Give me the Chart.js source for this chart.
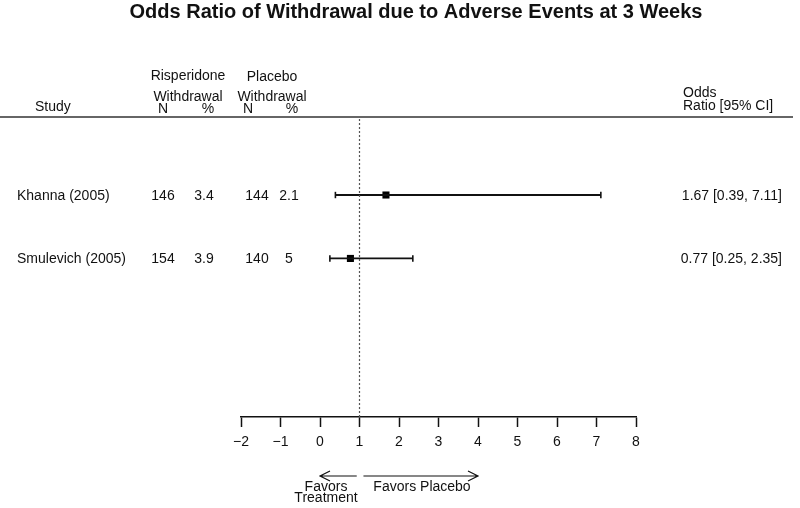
<!DOCTYPE html>
<html>
<head>
<meta charset="utf-8">
<script src="https://cdn.jsdelivr.net/npm/chart.js@4.4.1/dist/chart.umd.min.js"></script>
<style>
  html, body { margin: 0; padding: 0; background: #fff; }
  #wrap { width: 800px; height: 508px; position: relative; }
</style>
</head>
<body>
<div id="wrap"><canvas id="forest"></canvas></div>
<script>
"use strict";
// data
var studies = ["Khanna (2005)", "Smulevich (2005)"];
var rows = [2, 1];
var risN = ["146", "154"];
var risPct = ["3.4", "3.9"];
var plaN = ["144", "140"];
var plaPct = ["2.1", "5"];
var oddsRatio = [1.67, 0.77];
var ciLower = [0.39, 0.25];
var ciUpper = [7.11, 2.35];
var xTicks = [-2, -1, 0, 1, 2, 3, 4, 5, 6, 7, 8];

var FONT = "'Liberation Sans', Arial, Helvetica, sans-serif";

var datasets = [];
// dotted reference line at OR = 1
datasets.push({
    type: "line",
    data: [{x: 1, y: -1.5}, {x: 1, y: 3.23}],
    borderColor: "#555",
    borderWidth: 1.2,
    borderDash: [2, 2],
    pointRadius: 0
});
for (var i = 0; i < studies.length; i++) {
    datasets.push({
        type: "line",
        data: [{x: ciLower[i], y: rows[i]}, {x: ciUpper[i], y: rows[i]}],
        borderColor: "#111",
        borderWidth: 1.8,
        pointStyle: "line",
        rotation: 90,
        pointRadius: 3.2,
        pointBorderColor: "#111",
        pointBorderWidth: 1.6
    });
}
datasets.push({
    type: "scatter",
    data: oddsRatio.map(function (v, j) { return {x: v, y: rows[j]}; }),
    pointStyle: "rect",
    pointRadius: 5,
    pointBackgroundColor: "#000",
    pointBorderColor: "#000",
    pointBorderWidth: 0
});

function arrow(ctx, x0, x1, y) {
    var d = x1 > x0 ? -1 : 1;
    ctx.beginPath();
    ctx.moveTo(x0, y);
    ctx.lineTo(x1, y);
    ctx.moveTo(x1 + d * 10, y - 5);
    ctx.lineTo(x1, y);
    ctx.lineTo(x1 + d * 10, y + 5);
    ctx.stroke();
}

var textPlugin = {
    id: "forestText",
    afterDraw: function (chart) {
        var ctx = chart.ctx;
        var xs = chart.scales.x, ys = chart.scales.y;
        ctx.save();
        ctx.fillStyle = "#111";
        ctx.textBaseline = "alphabetic";

        ctx.font = "bold 20px " + FONT;
        ctx.textAlign = "center";
        ctx.fillText("Odds Ratio of Withdrawal due to Adverse Events at 3 Weeks", 416, 18);

        ctx.font = "14px " + FONT;
        ctx.fillText("Risperidone", 188, 80);
        ctx.fillText("Placebo", 272, 81);
        ctx.fillText("Withdrawal", 188, 101);
        ctx.fillText("Withdrawal", 272, 101);
        ctx.fillText("N", 163, 113);
        ctx.fillText("%", 208, 113);
        ctx.fillText("N", 248, 113);
        ctx.fillText("%", 292, 113);
        ctx.textAlign = "left";
        ctx.fillText("Study", 35, 111);
        ctx.fillText("Odds", 683, 97);
        ctx.fillText("Ratio [95% CI]", 683, 110);

        // header rule
        ctx.strokeStyle = "#333";
        ctx.lineWidth = 1.5;
        ctx.beginPath();
        ctx.moveTo(0, 117);
        ctx.lineTo(793, 117);
        ctx.stroke();

        // study rows
        ctx.textBaseline = "middle";
        for (var k = 0; k < studies.length; k++) {
            var py = ys.getPixelForValue(rows[k]) + 1;
            ctx.textAlign = "left";
            ctx.fillText(studies[k], 17, py);
            ctx.textAlign = "center";
            ctx.fillText(risN[k], 163, py);
            ctx.fillText(risPct[k], 204, py);
            ctx.fillText(plaN[k], 257, py);
            ctx.fillText(plaPct[k], 289, py);
            ctx.textAlign = "right";
            ctx.fillText(oddsRatio[k].toFixed(2) + " [" + ciLower[k].toFixed(2) + ", " +
                ciUpper[k].toFixed(2) + "]", 782, py);
        }

        // favours arrows
        ctx.strokeStyle = "#111";
        ctx.lineWidth = 1.2;
        arrow(ctx, xs.getPixelForValue(0.93), xs.getPixelForValue(0), 476);
        arrow(ctx, xs.getPixelForValue(1.1), xs.getPixelForValue(4), 476);
        ctx.textBaseline = "alphabetic";
        ctx.textAlign = "center";
        ctx.fillText("Favors", 326, 491);
        ctx.fillText("Treatment", 326, 502);
        ctx.fillText("Favors Placebo", 422, 491);
        ctx.restore();
    }
};

new Chart(document.getElementById("forest").getContext("2d"), {
    data: { datasets: datasets },
    options: {
        responsive: true,
        maintainAspectRatio: false,
        animation: false,
        events: [],
        layout: { padding: { left: 241, right: 164, top: 117, bottom: 51 } },
        plugins: {
            legend: { display: false },
            tooltip: { enabled: false },
            title: { display: false }
        },
        scales: {
            x: {
                type: "linear",
                min: xTicks[0],
                max: xTicks[xTicks.length - 1],
                afterBuildTicks: function (s) {
                    s.ticks = xTicks.map(function (v) { return {value: v}; });
                },
                afterFit: function (s) { s.height = 40; },
                ticks: {
                    color: "#111",
                    padding: 7,
                    maxRotation: 0,
                    font: { family: FONT, size: 14 },
                    callback: function (v) { return v < 0 ? "\u2212" + Math.abs(v) : String(v); }
                },
                grid: {
                    drawOnChartArea: false,
                    drawTicks: true,
                    tickLength: 10,
                    tickColor: "#111",
                    tickWidth: 1.5
                },
                border: { display: true, color: "#111", width: 1.5 }
            },
            y: {
                type: "linear",
                display: false,
                min: -1.5,
                max: 3.23
            }
        }
    },
    plugins: [textPlugin]
});
</script>
</body>
</html>
